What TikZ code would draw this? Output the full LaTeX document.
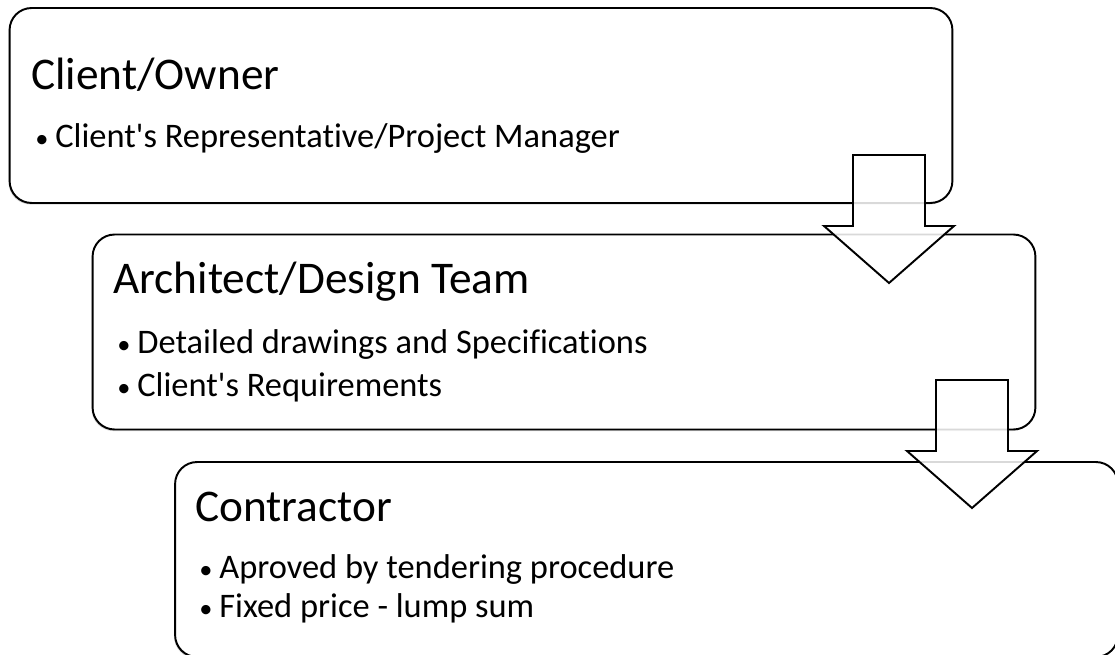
\documentclass[tikz,border=0pt]{standalone}
\usepackage{fontspec}
\setmainfont{Carlito}[Ligatures=CommonOff]
\usetikzlibrary{shadows}

\newcommand{\dotitem}{\makebox[0.44cm][l]{\hspace{0.04cm}\fontsize{15}{18}\selectfont•}}

\begin{document}
\begin{tikzpicture}[
    x=0.02cm, y=-0.02cm,
    box/.style={rectangle, rounded corners=0.44cm, draw=black, line width=1.1pt, fill=white,
      minimum width=18.86cm, minimum height=3.9cm, inner sep=0pt,
      drop shadow={shadow xshift=-0.6pt, shadow yshift=-0.9pt, opacity=0.3}},
    title/.style={anchor=base west, inner sep=0pt, font=\fontsize{25.8}{31}\selectfont},
    item/.style={anchor=base west, inner sep=0pt, font=\fontsize{19.6}{23}\selectfont},
    flow/.style={draw=black, line width=1.1pt, fill=white, fill opacity=0.85, line join=miter}
]
  \useasboundingbox (0,0) rectangle (1115,655);

  % boxes
  \node[box] (owner) at (481,105.5) {};
  \node[box] (design) at (564,332) {};
  \node[box] (contractor) at (646.5,559.5) {};

  % block arrows
  \foreach \cx/\ytop in {889/155, 972/380}
    \draw[flow] (\cx-36,\ytop) -- (\cx+36,\ytop) -- (\cx+36,\ytop+71) -- (\cx+65,\ytop+71)
      -- (\cx,\ytop+128) -- (\cx-65,\ytop+71) -- (\cx-36,\ytop+71) -- cycle;

  % texts
  \node[title] (ownerTitle) at (31,90) {Client/Owner};
  \node[item] (ownerItem) at (33,148) {\dotitem Client\textquotesingle s Representative/Project Manager};

  \node[title] (designTitle) at (113,293) {Architect/Design Team};
  \node[item] (designItemA) at (115,353) {\dotitem Detailed drawings and Specifications};
  \node[item] (designItemB) at (115,396) {\dotitem Client\textquotesingle s Requirements};

  \node[title] (contractorTitle) at (195,521) {Contractor};
  \node[item] (contractorItemA) at (197,578) {\dotitem Aproved by tendering procedure};
  \node[item] (contractorItemB) at (197,617) {\dotitem Fixed price - lump sum};

\end{tikzpicture}
\end{document}
